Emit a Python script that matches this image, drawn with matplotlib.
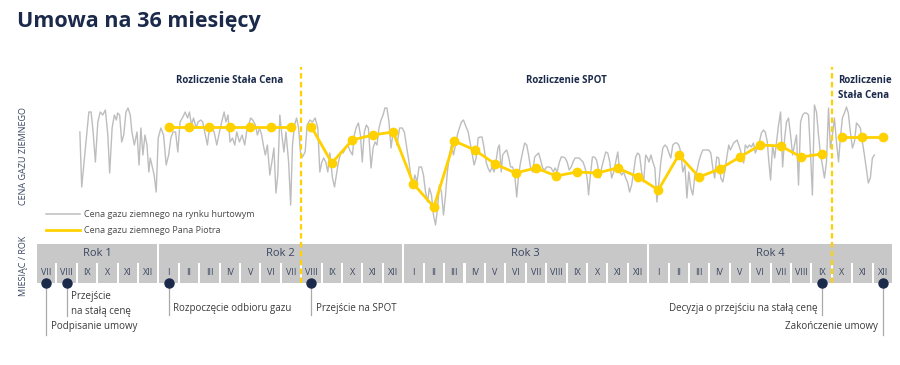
import matplotlib
matplotlib.use("Agg")
import matplotlib.pyplot as plt
from matplotlib.lines import Line2D
from matplotlib.patches import Rectangle

plt.rcParams['font.family'] = ['Open Sans', 'DejaVu Sans']

NAVY = '#1B2A4A'
TEXT = '#3A4660'
GRAY_LINE = '#BDBDBD'
YELLOW = '#FFD100'
BAR_GRAY = '#C8C8C8'

# timeline: 42 months, from VII of year 1 to XII of year 4
roman = ['I', 'II', 'III', 'IV', 'V', 'VI', 'VII', 'VIII', 'IX', 'X', 'XI', 'XII']
month_labels = roman[6:] + roman * 3
years = ['Rok 1', 'Rok 2', 'Rok 3', 'Rok 4']
year_months = [6, 12, 12, 12]

# Mr Piotr's price (month index -> price), three settlement periods
fixed1_months = [6, 7, 8, 9, 10, 11, 12]
fixed1_price = [103, 103, 103, 103, 103, 103, 103]
spot_months = list(range(13, 39))
spot_price = [103, 67, 90, 95, 98, 46, 23, 89, 80, 66, 57, 62, 54, 58, 57,
              62, 53, 40, 75, 53, 61, 73, 85, 84, 73, 76]
fixed2_months = [39, 40, 41]
fixed2_price = [93, 93, 93]

# wholesale market price (time in months, price)
market_t = [
    1.65, 1.74, 2.09, 2.20, 2.30, 2.41, 2.53, 2.65, 2.77, 2.90, 3.02, 3.11, 3.23, 3.34, 3.44,
    3.50, 3.60, 3.70, 3.80, 3.91, 4.01, 4.12, 4.20, 4.32, 4.45, 4.55, 4.64, 4.74, 4.84, 4.94,
    5.03, 5.10, 5.20, 5.29, 5.39, 5.49, 5.62, 5.75, 5.88, 6.00, 6.11, 6.21, 6.34, 6.45, 6.56,
    6.70, 6.81, 6.93, 7.02, 7.12, 7.22, 7.35, 7.44, 7.58, 7.67, 7.77, 7.90, 8.00, 8.11, 8.23,
    8.36, 8.49, 8.60, 8.72, 8.81, 8.91, 9.01, 9.13, 9.24, 9.34, 9.47, 9.60, 9.73, 9.82, 9.92,
    10.02, 10.12, 10.25, 10.35, 10.45, 10.56, 10.64, 10.74, 10.84, 10.96, 11.06, 11.16, 11.26,
    11.35, 11.45, 11.55, 11.65, 11.75, 11.88, 11.98, 12.07, 12.17, 12.27, 12.37, 12.46, 12.56,
    12.69, 12.79, 12.92, 13.05, 13.18, 13.31, 13.41, 13.51, 13.60, 13.70, 13.80, 13.90, 14.03,
    14.13, 14.22, 14.32, 14.45, 14.55, 14.68, 14.78, 14.87, 15.01, 15.10, 15.20, 15.30, 15.40,
    15.49, 15.59, 15.69, 15.79, 15.92, 16.02, 16.12, 16.21, 16.31, 16.41, 16.51, 16.60, 16.70,
    16.80, 16.90, 17.00, 17.09, 17.19, 17.32, 17.45, 17.55, 17.65, 17.78, 17.88, 17.97, 18.07,
    18.17, 18.27, 18.39, 18.49, 18.59, 18.69, 18.78, 18.88, 18.98, 19.08, 19.18, 19.27, 19.37,
    19.47, 19.57, 19.66, 19.76, 19.86, 19.96, 20.06, 20.15, 20.25, 20.35, 20.45, 20.54, 20.68,
    20.77, 20.87, 20.97, 21.07, 21.17, 21.26, 21.36, 21.46, 21.56, 21.65, 21.75, 21.85, 21.95,
    22.04, 22.14, 22.21, 22.30, 22.37, 22.47, 22.57, 22.67, 22.76, 22.86, 22.96, 23.06, 23.15,
    23.25, 23.35, 23.45, 23.55, 23.64, 23.74, 23.84, 23.94, 24.03, 24.13, 24.23, 24.33, 24.43,
    24.52, 24.65, 24.75, 24.85, 24.94, 25.04, 25.14, 25.24, 25.33, 25.43, 25.53, 25.63, 25.73,
    25.82, 25.92, 26.02, 26.12, 26.21, 26.31, 26.41, 26.51, 26.58, 26.67, 26.77, 26.87, 26.97,
    27.09, 27.13, 27.23, 27.32, 27.42, 27.52, 27.62, 27.71, 27.81, 27.91, 28.01, 28.11, 28.20,
    28.30, 28.40, 28.50, 28.59, 28.69, 28.79, 28.89, 28.99, 29.08, 29.18, 29.28, 29.38, 29.47,
    29.54, 29.64, 29.73, 29.83, 29.93, 30.03, 30.12, 30.22, 30.32, 30.42, 30.52, 30.61, 30.71,
    30.81, 30.91, 31.00, 31.10, 31.20, 31.30, 31.40, 31.49, 31.59, 31.69, 31.79, 31.88, 31.98,
    32.08, 32.18, 32.28, 32.37, 32.47, 32.57, 32.67, 32.76, 32.86, 32.96, 33.06, 33.16, 33.25,
    33.35, 33.45, 33.53, 33.69, 33.86, 34.02, 34.18, 34.26, 34.36, 34.46, 34.56, 34.66, 34.75,
    34.85, 34.95, 35.05, 35.15, 35.24, 35.34, 35.40, 35.50, 35.60, 35.70, 35.79, 35.89, 35.99,
    36.09, 36.19, 36.28, 36.38, 36.48, 36.58, 36.67, 36.77, 36.87, 36.97, 37.07, 37.16, 37.26,
    37.36, 37.46, 37.55, 37.65, 37.75, 37.85, 37.95, 38.04, 38.14, 38.24, 38.34, 38.43, 38.53,
    38.63, 38.73, 38.83, 38.92, 39.02, 39.12, 39.22, 39.31, 39.41, 39.51, 39.61, 39.71, 39.80,
    39.90, 40.00, 40.10, 40.19, 40.29, 40.39, 40.49, 40.59]
market_price = [
    98, 43, 118, 118, 98, 68, 108, 118, 115, 120, 95, 57, 102, 115, 110,
    117, 115, 88, 95, 118, 122, 115, 98, 85, 98, 65, 102, 75, 95, 85,
    58, 72, 63, 55, 38, 92, 102, 95, 65, 75, 92, 98, 98, 78, 108,
    113, 118, 112, 118, 105, 112, 102, 108, 110, 108, 98, 85, 102, 102, 98,
    85, 98, 108, 118, 108, 115, 88, 92, 85, 98, 88, 95, 85, 98, 105,
    112, 110, 105, 95, 102, 95, 85, 75, 85, 55, 68, 82, 37,
    55, 115, 95, 78, 98, 68, 25, 85, 105, 112, 102, 78, 73,
    78, 105, 110, 108, 112, 102, 58, 68, 72, 68, 58, 77, 52,
    43, 55, 68, 78, 77, 82, 85, 80, 75, 95, 103, 107, 95,
    68, 98, 105, 102, 62, 82, 88, 85, 102, 110, 115, 122, 122,
    108, 82, 98, 98, 85, 102, 102, 98, 85, 68, 52, 45, 55,
    48, 63, 63, 55, 38, 28, 42, 35, 15, 5, 22, 45, 38,
    15, 35, 58, 75, 85, 75, 85, 95, 102, 108, 110, 105, 98,
    88, 77, 65, 72, 92, 93, 93, 82, 68, 62, 58, 63, 58,
    68, 82, 85, 58, 75, 78, 80, 72, 63, 63, 55, 33, 55,
    68, 78, 87, 85, 75, 62, 58, 73, 75, 77, 70, 62, 60,
    63, 63, 62, 58, 62, 58, 67, 73, 73, 72, 68, 60, 63,
    68, 72, 72, 72, 70, 68, 62, 52, 35, 55, 73, 73, 70,
    58, 52, 63, 70, 78, 77, 68, 52, 58, 68, 78, 58, 55,
    58, 52, 47, 38, 45, 58, 73, 77, 75, 58, 48, 75, 72,
    68, 75, 68, 62, 28, 48, 68, 82, 85, 83, 77, 72, 85,
    87, 87, 85, 78, 58, 65, 32, 58, 42, 35, 55, 58, 68,
    75, 80, 80, 80, 80, 77, 62, 52, 73, 72, 52, 48, 58,
    72, 85, 80, 87, 90, 80, 67, 85, 82, 85, 83, 87, 77,
    82, 88, 97, 100, 98, 88, 72, 50, 85, 72, 88, 105, 118,
    63, 92, 108, 112, 95, 75, 85, 95, 45, 108, 115, 117, 117,
    115, 75, 35, 125, 118, 95, 75, 65, 52, 68, 122, 82, 95,
    112, 88, 68, 92, 112, 117, 123, 117, 98, 82, 88, 107, 105,
    102, 88, 75, 62, 47, 52, 72, 75]

section_switch = [12.5, 38.5]   # month boundaries where settlement changes
sections = [(9.0, 'Rozliczenie Stała Cena', 'center'),
            (25.5, 'Rozliczenie SPOT', 'center'),
            (38.8, 'Rozliczenie\nStała Cena', 'left')]

# timeline events: month index, label, label centre depth, line depth, side
events = [(0, 'Podpisanie umowy', 2.2, 2.6, 'right'),
          (1, 'Przejście\nna stałą cenę', 1.05, 1.65, 'right'),
          (6, 'Rozpoczęcie odbioru gazu', 1.3, 1.6, 'right'),
          (13, 'Przejście na SPOT', 1.3, 1.6, 'right'),
          (38, 'Decyzja o przejściu na stałą cenę', 1.3, 1.6, 'left'),
          (41, 'Zakończenie umowy', 2.2, 2.6, 'left')]

W, H = 900, 365
fig = plt.figure(figsize=(W / 100, H / 100), dpi=100)
x0, x1 = 36 / W, 893 / W
xlim = (-0.5, len(month_labels) - 0.5)

fig.text(17 / W, 1 - 21 / H, 'Umowa na 36 miesięcy', fontsize=15.5, fontweight='bold',
         color=NAVY, va='center', ha='left')

# price chart
ax = fig.add_axes([x0, (H - 230) / H, x1 - x0, 130 / H])
ax.set_xlim(*xlim)
ax.set_ylim(0, 130)
ax.axis('off')
ax.plot(market_t, market_price, color=GRAY_LINE, lw=1.0, zorder=2)
for m, p in [(fixed1_months, fixed1_price), (spot_months, spot_price), (fixed2_months, fixed2_price)]:
    ax.plot(m, p, color=YELLOW, lw=2, marker='o', ms=6, zorder=3)

for xs, txt, ha in sections:
    ax.text(xs, 155, txt, ha=ha, va='top', fontsize=7, fontweight='bold', color=NAVY,
            linespacing=1.5, clip_on=False)

handles = [Line2D([], [], color=GRAY_LINE, lw=1.1), Line2D([], [], color=YELLOW, lw=2)]
ax.legend(handles, ['Cena gazu ziemnego na rynku hurtowym', 'Cena gazu ziemnego Pana Piotra'],
          loc='lower left', bbox_to_anchor=(0.012, -0.04), frameon=False, fontsize=6.5,
          handlelength=3.7, handletextpad=0.5, labelspacing=0.75, borderpad=0,
          borderaxespad=0, labelcolor='#4A4A4A')

fig.text(24 / W, 1 - 156 / H, 'CENA GAZU ZIEMNEGO', rotation=90, fontsize=6.5,
         color=TEXT, ha='center', va='center')
fig.text(24 / W, 1 - 266 / H, 'MIESIĄC / ROK', rotation=90, fontsize=6.5,
         color=TEXT, ha='center', va='center')

# month / year bar
bx = fig.add_axes([x0, (H - 283) / H, x1 - x0, 40 / H])
bx.set_xlim(*xlim)
bx.set_ylim(0, 2)
bx.axis('off')
for i, lab in enumerate(month_labels):
    bx.add_patch(Rectangle((i - 0.5 + 0.05, 0), 0.9, 1.05, color=BAR_GRAY, lw=0))
    bx.text(i, 0.52, lab, ha='center', va='center', fontsize=6.5, color=TEXT)
start = 0
for name, n in zip(years, year_months):
    bx.add_patch(Rectangle((start - 0.5 + 0.05, 1.0), n - 0.1, 0.95, color=BAR_GRAY, lw=0))
    bx.text(start - 0.5 + n / 2, 1.47, name, ha='center', va='center', fontsize=8, color=TEXT)
    start += n

for xs in section_switch:
    bx.plot([xs, xs], [0, 10.8], color=YELLOW, lw=1.6, ls=(0, (2.5, 1.5)),
            clip_on=False, zorder=5)

for idx, txt, ty, depth, side in events:
    bx.plot([idx, idx], [0, -depth], color='#AAAAAA', lw=0.9, clip_on=False, zorder=4)
    bx.plot(idx, 0, 'o', color=NAVY, ms=6.5, clip_on=False, zorder=6)
    off = 0.22 if side == 'right' else -0.22
    bx.text(idx + off, -ty, txt, ha='left' if side == 'right' else 'right',
            va='center', fontsize=7, color='#3A3A3A', linespacing=1.6, clip_on=False)

fig.savefig('out.png', dpi=100)
